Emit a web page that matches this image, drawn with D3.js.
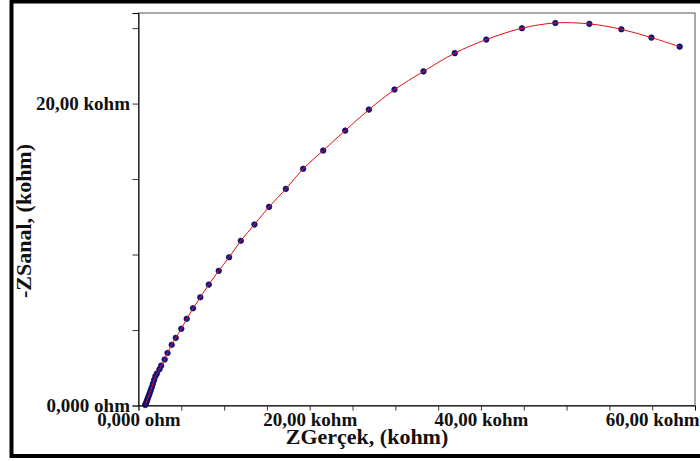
<!DOCTYPE html>
<html>
<head>
<meta charset="utf-8">
<script src="https://cdn.jsdelivr.net/npm/d3@7"></script>
<style>
  html, body { margin: 0; padding: 0; background: #fff; }
  svg { display: block; }
  .tick text { font-family: "Liberation Serif", "Times New Roman", serif; font-weight: bold; font-size: 19px; fill: #111; }
  .title { font-family: "Liberation Serif", "Times New Roman", serif; font-weight: bold; font-size: 22px; fill: #111; }
</style>
</head>
<body>
<script>
// Nyquist data: real part (kohm) and negative imaginary part (kohm)
const zReal = [0.79, 0.84, 0.91, 0.99, 1.08, 1.18, 1.30, 1.42, 1.55, 1.68, 1.82, 1.97,
  2.15, 2.45, 2.65, 3.06, 3.39, 3.88, 4.35, 5.00, 5.63, 6.37, 7.22, 8.21, 9.37, 10.58,
  11.95, 13.54, 15.25, 17.21, 19.23, 21.57, 24.14, 26.91, 29.90, 33.29, 36.94, 40.62,
  44.79, 48.69, 52.66, 56.40, 59.91, 63.21];
const zImag = [0.03, 0.10, 0.20, 0.32, 0.46, 0.62, 0.80, 1.00, 1.21, 1.44, 1.68, 1.93,
  2.12, 2.40, 2.64, 3.05, 3.48, 4.02, 4.48, 5.08, 5.74, 6.44, 7.17, 8.01, 8.92, 9.82,
  10.91, 11.99, 13.16, 14.35, 15.68, 16.89, 18.21, 19.60, 20.93, 22.13, 23.34, 24.24,
  24.99, 25.34, 25.28, 24.92, 24.37, 23.77];

// Axis ticks (kohm) and their labels
const xTicks = [0, 5, 10, 15, 20, 25, 30, 35, 40, 45, 50, 55, 60];
const xLabelValues = [0, 20, 40, 60];
const xLabelTexts = ["0,000 ohm", "20,00 kohm", "40,00 kohm", "60,00 kohm"];
const yTicks = [0, 5, 10, 15, 20, 25];
const yLabelValues = [0, 20];
const yLabelTexts = ["0,000 ohm", "20,00 kohm"];

const xTitle = "ZGerçek, (kohm)";
const yTitle = "-ZSanal, (kohm)";

const W = 700, H = 461;
const svg = d3.select("body").append("svg").attr("width", W).attr("height", H);

// Outer frame
svg.append("rect")
  .attr("x", 11.5).attr("y", 1.5).attr("width", 720).attr("height", 454.5)
  .attr("fill", "none").attr("stroke", "#000").attr("stroke-width", 4);

const x = d3.scaleLinear().domain([0, 65]).range([138.5, 695]);
const y = d3.scaleLinear().domain([0, 26]).range([405.5, 13]);

// Plot frame
svg.append("rect")
  .attr("x", x(0)).attr("y", y(26))
  .attr("width", x(65) - x(0)).attr("height", y(0) - y(26))
  .attr("fill", "none").attr("stroke", "#555").attr("stroke-width", 1);

const xFmt = v => { const i = xLabelValues.indexOf(v); return i >= 0 ? xLabelTexts[i] : ""; };
const yFmt = v => { const i = yLabelValues.indexOf(v); return i >= 0 ? yLabelTexts[i] : ""; };

const gx = svg.append("g")
  .attr("transform", `translate(0,${y(0)})`)
  .call(d3.axisBottom(x).tickValues(xTicks).tickSize(5).tickPadding(2.5).tickFormat(xFmt));
const gy = svg.append("g")
  .attr("transform", `translate(${x(0)},0)`)
  .call(d3.axisLeft(y).tickValues(yTicks).tickSize(6).tickPadding(2.5).tickFormat(yFmt));

[gx, gy].forEach(g => {
  g.select(".domain").attr("stroke", "#000");
  g.selectAll(".tick line").attr("stroke", "#333");
  g.attr("font-family", null).attr("font-size", null);
});

// Axis titles
svg.append("text").attr("class", "title")
  .attr("x", 367).attr("y", 444).attr("text-anchor", "middle")
  .text(xTitle);
svg.append("text").attr("class", "title")
  .attr("transform", "translate(31,221) rotate(-90)")
  .attr("text-anchor", "middle")
  .text(yTitle);

const pts = zReal.map((v, i) => [v, zImag[i]]);

// Markers
svg.append("g").selectAll("circle").data(pts).join("circle")
  .attr("cx", d => x(d[0])).attr("cy", d => y(d[1]))
  .attr("r", 2.8)
  .attr("fill", "#14149a").attr("stroke", "#000030").attr("stroke-width", 0.6);

// Connecting curve
svg.append("path").datum(pts)
  .attr("fill", "none").attr("stroke", "#e01010").attr("stroke-width", 1)
  .attr("d", d3.line().x(d => x(d[0])).y(d => y(d[1])).curve(d3.curveCatmullRom));
</script>
</body>
</html>
